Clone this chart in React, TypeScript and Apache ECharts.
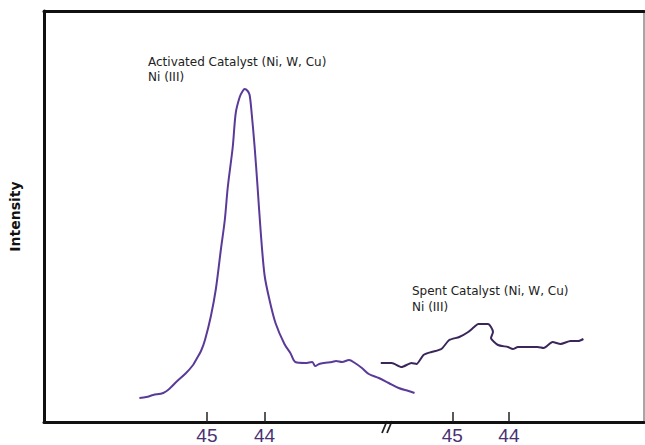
import React, { useEffect, useRef } from "react";
import * as echarts from "echarts";

// Activated catalyst (left segment of the broken 2θ axis)
const activatedTwoTheta = [
  46.172, 46.052, 45.931, 45.759, 45.638, 45.534, 45.362, 45.241, 45.19, 45.103,
  45.034, 44.931, 44.845, 44.759, 44.69, 44.638, 44.552, 44.5, 44.431, 44.379,
  44.345, 44.293, 44.259, 44.224, 44.172, 44.121, 44.069, 44.0, 43.914, 43.81,
  43.655, 43.552, 43.466, 43.293, 43.172, 43.121, 43.052, 42.966, 42.828, 42.759,
  42.655, 42.534, 42.431, 42.31, 42.19, 42.017, 41.845, 41.672, 41.5, 41.397,
];
const activatedIntensity = [
  24, 25, 27, 29, 34, 40, 49, 57, 62, 71,
  82, 106, 133, 172, 202, 235, 275, 309, 325, 331,
  333, 331, 327, 309, 275, 235, 192, 147, 122, 99,
  78, 69, 60, 59, 60, 56, 58, 59, 60, 61,
  60, 62, 59, 54, 48, 44, 39, 34, 31, 29,
];

// Spent catalyst (right segment of the broken 2θ axis)
const spentTwoTheta = [
  46.263, 46.07, 45.895, 45.719, 45.632, 45.509, 45.368, 45.193, 45.053, 44.877,
  44.719, 44.614, 44.544, 44.368, 44.316, 44.281, 44.316, 44.193, 44.018, 43.93,
  43.842, 43.667, 43.491, 43.386, 43.228, 43.088, 42.912, 42.772, 42.684,
];
const spentIntensity = [
  59, 59, 55, 59, 58, 67, 70, 73, 82, 85,
  90, 95, 98, 98, 95, 90, 84, 77, 75, 73,
  75, 75, 75, 74, 80, 78, 81, 81, 83,
];

const tickValues = [45, 44];
const yAxisName = "Intensity";
const activatedLabel = ["Activated Catalyst (Ni, W, Cu)", "Ni (III)"];
const spentLabel = ["Spent Catalyst (Ni, W, Cu)", "Ni (III)"];

const labelFont = "'Liberation Sans Narrow', 'Arial Narrow', 'Liberation Sans', sans-serif";
const noteFont = "'DejaVu Sans', sans-serif";

export default function App() {
  const ref = useRef<HTMLDivElement>(null);

  useEffect(() => {
    if (!ref.current) return;
    const chart = echarts.init(ref.current, null, { renderer: "svg" });

    const tickAxisCommon = {
      type: "value" as const,
      inverse: true,
      position: "bottom" as const,
      splitLine: { show: false },
      axisTick: {
        show: true,
        inside: true,
        length: 10,
        customValues: tickValues,
        lineStyle: { color: "#222", width: 1.5 },
      },
      axisLabel: {
        show: true,
        customValues: tickValues,
        formatter: (v: number) => String(Math.round(v)),
        color: "#4a3272",
        fontSize: 19,
        fontFamily: labelFont,
        margin: 4,
      },
    };

    chart.setOption({
      animation: false,
      backgroundColor: "#ffffff",
      grid: { left: 40, right: 1, top: 11, bottom: 23, containLabel: false },
      xAxis: [
        {
          ...tickAxisCommon,
          min: 37.414,
          max: 47.828,
          axisLine: { show: true, onZero: false, lineStyle: { color: "#111", width: 3 } },
        },
        {
          ...tickAxisCommon,
          min: 41.614,
          max: 52.211,
          axisLine: { show: false },
        },
        {
          type: "value",
          position: "top",
          min: 0,
          max: 1,
          axisLine: { show: true, onZero: false, lineStyle: { color: "#111", width: 3 } },
          axisTick: { show: false },
          axisLabel: { show: false },
          splitLine: { show: false },
        },
      ],
      yAxis: [
        {
          type: "value",
          min: 0,
          max: 411,
          position: "left",
          name: yAxisName,
          nameLocation: "middle",
          nameRotate: 90,
          nameGap: 22,
          nameTextStyle: {
            fontFamily: "'DejaVu Sans', sans-serif",
            fontWeight: "bold",
            fontSize: 14,
            color: "#111",
          },
          axisLine: { show: true, onZero: false, lineStyle: { color: "#111", width: 3 } },
          axisTick: { show: false },
          axisLabel: { show: false },
          splitLine: { show: false },
        },
        {
          type: "value",
          min: 0,
          max: 411,
          position: "right",
          axisLine: { show: true, onZero: false, lineStyle: { color: "#888", width: 1.5 } },
          axisTick: { show: false },
          axisLabel: { show: false },
          splitLine: { show: false },
        },
      ],
      series: [
        {
          type: "line",
          xAxisIndex: 0,
          yAxisIndex: 0,
          data: activatedTwoTheta.map((t, i) => [t, activatedIntensity[i]]),
          showSymbol: false,
          smooth: 0.3,
          clip: false,
          lineStyle: { color: "#5a3a98", width: 2 },
        },
        {
          type: "line",
          xAxisIndex: 1,
          yAxisIndex: 0,
          data: spentTwoTheta.map((t, i) => [t, spentIntensity[i]]),
          showSymbol: false,
          smooth: 0.2,
          clip: false,
          lineStyle: { color: "#3a2658", width: 2 },
        },
      ],
      graphic: [
        {
          type: "text",
          left: 148,
          top: 54,
          style: {
            text: activatedLabel.join("\n"),
            fontFamily: noteFont,
            fontSize: 12,
            lineHeight: 15,
            fill: "#222",
          },
        },
        {
          type: "text",
          left: 412,
          top: 283,
          style: {
            text: spentLabel.join("\n"),
            fontFamily: noteFont,
            fontSize: 12,
            lineHeight: 16,
            fill: "#222",
          },
        },
        {
          type: "line",
          shape: { x1: 382, y1: 433, x2: 387, y2: 421 },
          style: { stroke: "#222", lineWidth: 1.8 },
        },
        {
          type: "line",
          shape: { x1: 387, y1: 433, x2: 392, y2: 421 },
          style: { stroke: "#222", lineWidth: 1.8 },
        },
      ],
    });

    return () => chart.dispose();
  }, []);

  return <div ref={ref} style={{ width: 645, height: 445, position: "absolute", left: 0, top: 0 }} />;
}
